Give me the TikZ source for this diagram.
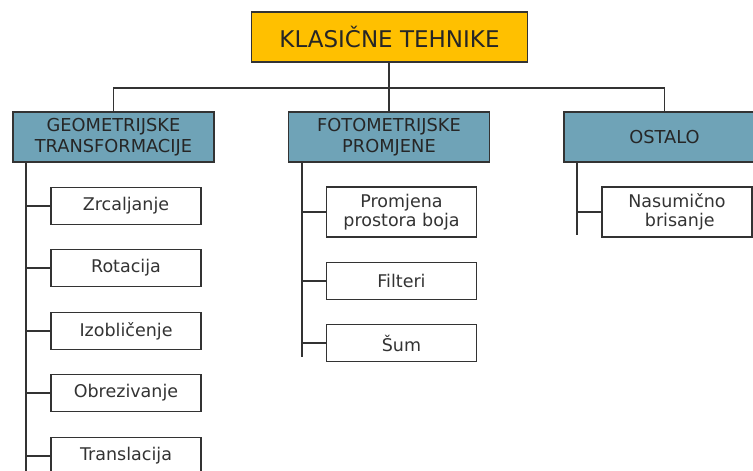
\documentclass[tikz,border=0pt]{standalone}
\usepackage{fontspec}
\setmainfont{DejaVu Sans}
\usepackage{tikz}
\usetikzlibrary{positioning}

\definecolor{TopFill}{HTML}{FFC000}
\definecolor{CatFill}{HTML}{6FA3B7}
\definecolor{EdgeCol}{HTML}{333333}

\tikzset{
  topbox/.style={draw=EdgeCol, line width=1.4pt, fill=TopFill, minimum width=276pt,
    minimum height=50pt, inner sep=0pt, text=black!85, font=\fontsize{23}{26}\selectfont},
  catbox/.style={draw=EdgeCol, line width=1.4pt, fill=CatFill, minimum width=201pt,
    minimum height=50pt, inner sep=0pt, align=center, text=black!85,
    font=\fontsize{17.8}{21}\selectfont},
  leafbox/.style={draw=EdgeCol, line width=1.4pt, fill=white, minimum width=150pt,
    minimum height=37.5pt, inner sep=0pt, align=center, text=black!80,
    font=\fontsize{17.5}{18.5}\selectfont},
  link/.style={draw=EdgeCol, line width=1.3pt}
}

\begin{document}
\begin{tikzpicture}[x=1pt,y=-1pt]
\useasboundingbox (0,0) rectangle (753,471);
\clip (0,0) rectangle (753,471);

\node[topbox] (top) at (389.5,37) {KLASIČNE TEHNIKE};
\node[catbox] (geo) at (113.5,137) {GEOMETRIJSKE\\TRANSFORMACIJE};
\node[catbox] (foto) at (389,137) {FOTOMETRIJSKE\\PROMJENE};
\node[catbox] (ost) at (664.5,137) {OSTALO};

% leaves
\foreach \txt/\y [count=\i] in {Zrcaljanje/206,Rotacija/268,Izobličenje/331,Obrezivanje/393,Translacija/456} {
  \node[leafbox] (g\i) at (126,\y) {\txt};
}
\node[leafbox, minimum height=50pt] (f1) at (401.5,212) {Promjena\\prostora boja};
\node[leafbox] (f2) at (401.5,281) {Filteri};
\node[leafbox] (f3) at (401.5,343) {Šum};
\node[leafbox, minimum height=50pt] (o1) at (677,212) {Nasumično\\\ brisanje};

% tree
\coordinate (bus) at (389,88);
\draw[link] (top.south -| bus) -- (bus);
\draw[link] (geo.north) |- (bus) -| (ost.north);
\draw[link] (bus) -- (foto.north);

\coordinate (gend) at (26,480);
\coordinate (fend) at (302,357);
\coordinate (oend) at (577,235);
\draw[link] (geo.south -| gend) -- (gend);
\draw[link] (foto.south -| fend) -- (fend);
\draw[link] (ost.south -| oend) -- (oend);
\foreach \i in {1,...,5} {
  \draw[link] (g\i.west) -- (g\i.west -| gend);
}
\foreach \i in {1,...,3} {
  \draw[link] (f\i.west) -- (f\i.west -| fend);
}
\draw[link] (o1.west) -- (o1.west -| oend);
\end{tikzpicture}
\end{document}
